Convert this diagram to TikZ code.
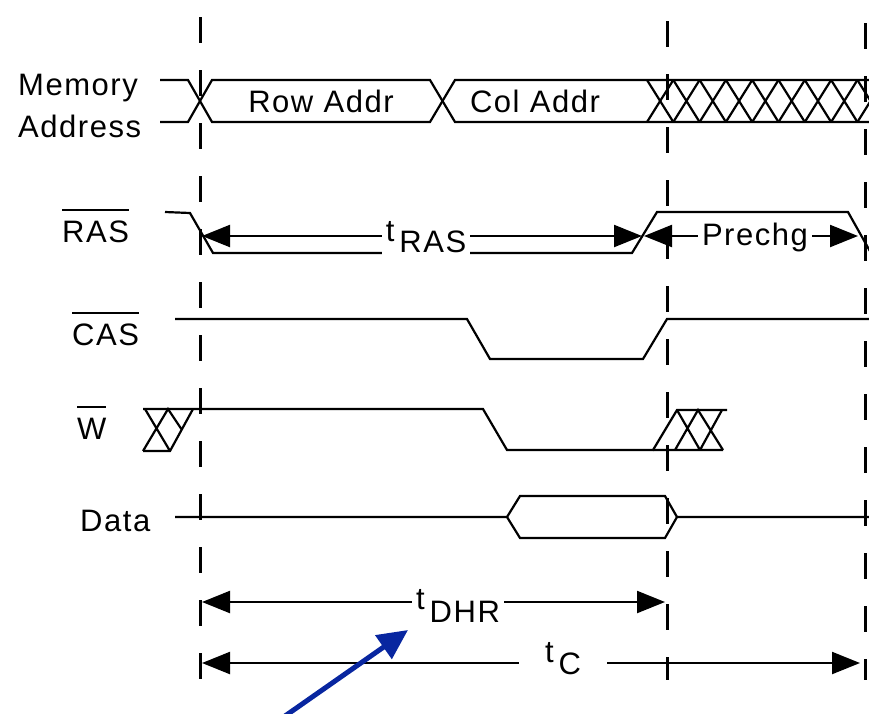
\documentclass[tikz,border=0pt]{standalone}
\usepackage{fontspec}
\setmainfont{Liberation Sans}[LetterSpace=5]
\usetikzlibrary{arrows.meta}
\definecolor{pointerblue}{RGB}{8,38,160}
\newcommand{\barred}[1]{\setbox0\hbox{#1}\rlap{\rule[31pt]{\wd0}{2.2pt}}\box0}
\tikzset{
	trace/.style={line width=2.2pt, line join=miter},
	guide/.style={line width=3pt, dash pattern=on 26pt off 27pt},
	interval/.style={line width=2.2pt, {Triangle[length=28pt,width=22pt]}-{Triangle[length=28pt,width=22pt]}},
	siglabel/.style={anchor=base west, inner sep=0pt},
	gaplabel/.style={anchor=base, fill=white, inner xsep=4pt, inner ysep=3pt}
}
\begin{document}
\begin{tikzpicture}[x=1pt, y=-1pt, font=\fontsize{31}{37}\selectfont]
	\useasboundingbox (0,0) rectangle (869,713);
	\draw[guide] (200,17) -- (200,680);
	\draw[guide] (667,21) -- (667,680);
	\draw[guide] (865,23) -- (865,680);

	\node[siglabel] (mem) at (18,95) {Memory};
	\node[siglabel] (addr) at (18,137) {Address};
	\node[siglabel] (ras) at (62,242) {\barred{RAS}};
	\node[siglabel] (cas) at (72,345) {\barred{CAS}};
	\node[siglabel] (w) at (77,439) {\barred{W}};
	\node[siglabel] (data) at (80,531) {Data};

	\draw[trace] (160,80) -- (188,80) -- (212,122) -- (430,122) -- (455,80) -- (869,80);
	\draw[trace] (160,122) -- (188,122) -- (212,80) -- (430,80) -- (455,122) -- (869,122);
	\foreach \i in {0,...,8}
		\draw[trace] (647+26.3*\i,80) -- (673.3+26.3*\i,122) (647+26.3*\i,122) -- (673.3+26.3*\i,80);
	\node[anchor=base] (row) at (321,112) {Row Addr};
	\node[anchor=base] (col) at (535,112) {Col Addr};

	\draw[trace] (165,212) -- (190,213) -- (213,253) -- (632,253) -- (657,212) -- (848,212) -- (871,253);
	\draw[trace] (175,319) -- (467,319) -- (490,359) -- (643,359) -- (667,319) -- (869,319);
	\draw[trace] (143,409) -- (483,409) -- (507,450) -- (653,450) -- (677,410) -- (727,410);
	\draw[trace] (143,451) -- (170,451) -- (193,409) (145,409) -- (170,451) (143,451) -- (168,409) -- (182,430);
	\draw[trace] (653,450) -- (723,450) (677,410) -- (700,450) (675,450) -- (698,410) -- (723,450) (700,450) -- (722,410);
	\draw[trace] (175,517) -- (507,517) -- (520,496) -- (665,496) -- (677,517) -- (869,517);
	\draw[trace] (507,517) -- (520,538) -- (665,538) -- (677,517);

	\draw[interval] (202,236) -- (642,236);
	\draw[interval] (644,236) -- (858,236);
	\draw[interval] (202,602) -- (665,602);
	\draw[interval] (202,663) -- (860,663);
	\node[gaplabel] (tras) at (426,252) {\raisebox{11pt}{t}\hspace{5pt}RAS};
	\node[gaplabel, inner ysep=2pt] (prechg) at (755,245) {Prechg};
	\node[gaplabel] (tdhr) at (458,622) {\raisebox{13pt}{t}\hspace{5pt}DHR};
	\node[gaplabel, inner xsep=26pt] (tc) at (563,674) {\raisebox{12pt}{t}\hspace{5pt}C};

	\draw[line width=5pt, pointerblue, -{Triangle[length=30pt,width=28pt]}] (285,716) -- (408,630);
\end{tikzpicture}
\end{document}
